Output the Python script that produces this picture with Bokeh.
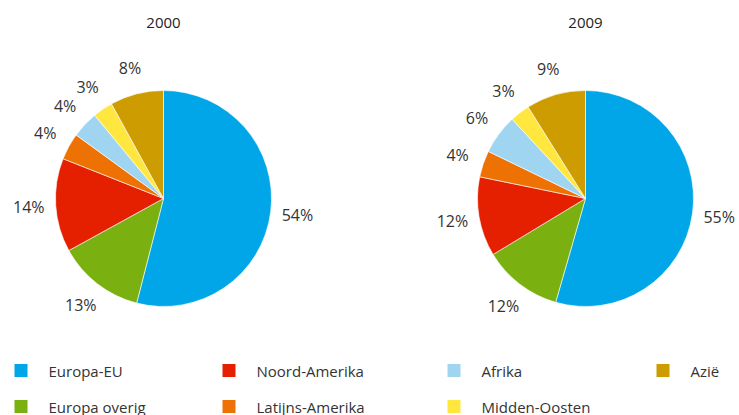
import math
from bokeh.plotting import figure
from bokeh.models import Range1d, ColumnDataSource
from bokeh.core.properties import value
from bokeh.embed import file_html
from bokeh.resources import INLINE

# ---- data ----
regions = ["Europa-EU", "Europa overig", "Noord-Amerika", "Latijns-Amerika",
           "Afrika", "Midden-Oosten", "Azië"]
colors = ["#00a6e8", "#7ab00f", "#e42000", "#ee7203", "#a0d5f2", "#ffe740", "#cc9c00"]
years = ["2000", "2009"]
share_2000 = [54, 13, 14, 4, 4, 3, 8]
share_2009 = [55, 12, 12, 4, 6, 3, 9]

W, H = 739, 415
FONT = "Open Sans"
TXT = "#333333"

p = figure(width=W, height=H, output_backend="svg", toolbar_location=None,
           x_range=Range1d(0, W), y_range=Range1d(0, H), min_border=0)
p.axis.visible = False
p.grid.visible = False
p.outline_line_color = None
p.background_fill_color = "white"

def sy(screen_y):
    return H - screen_y

def sx(screen_x):
    return screen_x

R = 108
LR = 135
centers = [(sx(163), sy(198)), (sx(585), sy(198))]

for (cx, cy), year, shares in zip(centers, years, [share_2000, share_2009]):
    total = float(sum(shares))
    starts, ends, lx, ly, labels = [], [], [], [], []
    cum = 0.0
    for s in shares:
        a0 = math.pi / 2 - 2 * math.pi * (cum + s) / total
        a1 = math.pi / 2 - 2 * math.pi * cum / total
        starts.append(a0)
        ends.append(a1)
        mid = (a0 + a1) / 2
        lx.append(cx + LR * math.cos(mid))
        ly.append(cy + LR * math.sin(mid))
        labels.append(f"{s}%")
        cum += s
    src = ColumnDataSource(dict(x=[cx] * len(shares), y=[cy] * len(shares),
                                start=starts, end=ends, color=colors))
    p.wedge(x="x", y="y", radius=R, start_angle="start", end_angle="end",
            direction="anticlock", fill_color="color", line_color="white",
            line_width=0.6, source=src)
    p.text(x=lx, y=ly, text=labels, text_align="center", text_baseline="middle",
           text_font=value(FONT), text_font_size="16px", text_color=TXT)
    p.text(x=[cx], y=[sy(22)], text=[year], text_align="center",
           text_baseline="middle", text_font=value(FONT), text_font_size="15px",
           text_color="#222222")

# ---- legend ----
col_x = [14, 222, 447, 656]
row_y = [370, 406]
sq_x, sq_y, t_x, t_y = [], [], [], []
for i, name in enumerate(regions):
    col = i // 2
    row = i % 2
    sq_x.append(sx(col_x[col] + 6.5))
    sq_y.append(sy(row_y[row]))
    t_x.append(sx(col_x[col] + 34))
    t_y.append(sy(row_y[row]))
p.rect(x=sq_x, y=sq_y, width=13, height=13, fill_color=colors, line_color=None)
p.text(x=t_x, y=t_y, text=regions, text_align="left", text_baseline="middle",
       text_font=value(FONT), text_font_size="15px", text_color=TXT)

open("out.html", "w").write(file_html(p, INLINE))
